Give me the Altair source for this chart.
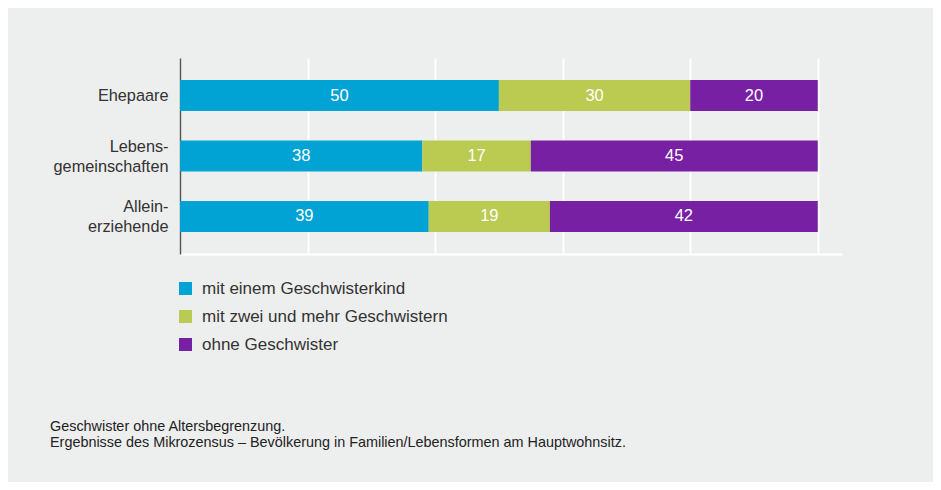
import altair as alt
import pandas as pd

categories = ["Ehepaare", "Lebens-\ngemeinschaften", "Allein-\nerziehende"]
series = ["mit einem Geschwisterkind", "mit zwei und mehr Geschwistern", "ohne Geschwister"]
v_one = [50, 38, 39]
v_two = [30, 17, 19]
v_none = [20, 45, 42]
colors = ["#00A3D3", "#BBCB52", "#7820A4"]
footnote = ["Geschwister ohne Altersbegrenzung.",
            "Ergebnisse des Mikrozensus – Bevölkerung in Familien/Lebensformen am Hauptwohnsitz."]

rows = []
for i, c in enumerate(categories):
    for j, (s, vals) in enumerate(zip(series, [v_one, v_two, v_none])):
        rows.append({"cat": c, "series": s, "value": vals[i], "order": j})
df = pd.DataFrame(rows)

FONT = "Liberation Sans"

base = alt.Chart(df).transform_stack(
    stack="value", groupby=["cat"], sort=[alt.SortField("order")], as_=["x0", "x1"]
).transform_calculate(mid="(datum.x0 + datum.x1) / 2")

xscale = alt.Scale(domain=[0, 103.8], nice=False, zero=True)
yscale = alt.Scale(paddingInner=0.488, paddingOuter=0.364)

bars = base.mark_bar().encode(
    y=alt.Y("cat:N", sort=categories, scale=yscale, title=None,
            axis=alt.Axis(labelExpr="split(datum.label, '\\n')", labelFont=FONT,
                          labelFontSize=16.3, labelColor="#333333", labelLineHeight=20,
                          labelOffset={"expr": "indexof(datum.value, '\\n') >= 0 ? -9 : 0"},
                          ticks=False, labelPadding=12, domainColor="#555555",
                          domainWidth=1.5, grid=False)),
    x=alt.X("x0:Q", scale=xscale, title=None,
            axis=alt.Axis(values=[0, 20, 40, 60, 80, 100], labels=False, ticks=False,
                          grid=True, gridColor="#ffffff", gridWidth=2,
                          domainColor="#ffffff", domainWidth=2)),
    x2="x1:Q",
    color=alt.Color("series:N", sort=series,
                    scale=alt.Scale(domain=series, range=colors),
                    legend=alt.Legend(title=None, orient="none", legendX=-3, legendY=222,
                                      symbolType="square", symbolSize=170,
                                      symbolStrokeWidth=0, labelFont=FONT,
                                      labelFontSize=17, labelColor="#333333",
                                      labelLimit=0, rowPadding=10, labelOffset=8)),
    order=alt.Order("order:Q"),
)

labels = base.mark_text(color="white", font=FONT, fontSize=16.5).encode(
    y=alt.Y("cat:N", sort=categories, scale=yscale),
    x=alt.X("mid:Q", scale=xscale),
    text="value:Q",
)

notes = alt.Chart(pd.DataFrame({"t": [footnote]})).mark_text(
    align="left", baseline="middle", font=FONT, fontSize=14.4, color="#222222",
    lineHeight=16
).encode(x=alt.value(-130), y=alt.value(369), text="t")

chart = alt.layer(bars, labels, notes).properties(
    width=662, height=196,
    background="#EDEEEE",
    padding={"left": 172, "top": 50, "right": 91, "bottom": 228},
    autosize=alt.AutoSizeParams(type="none"),
).configure_view(stroke=None)

chart.save("out.html", embed_options={"renderer": "svg", "actions": False})
